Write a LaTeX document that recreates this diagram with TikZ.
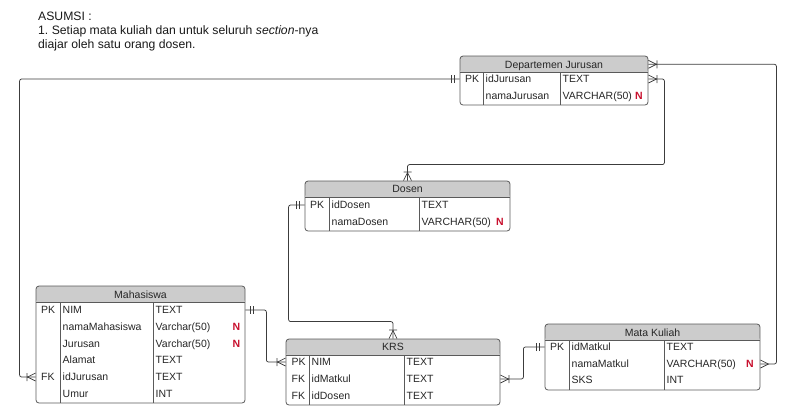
\documentclass[tikz,border=0pt]{standalone}
\usepackage{fontspec}
\setmainfont{Liberation Sans}
\frenchspacing

\definecolor{hdrgray}{HTML}{CCCCCC}
\definecolor{tblline}{HTML}{5A5A5A}
\definecolor{connline}{HTML}{3C3C3C}
\definecolor{nred}{HTML}{C8102E}

% relationship ends: #1 = point on the box edge, #2 = outward direction
\newcommand{\onebars}[2]{\draw[tick,shift={#1},rotate=#2] (5,-4) -- (5,4) (8,-4) -- (8,4);}
\newcommand{\crowbar}[2]{\draw[tick,shift={#1},rotate=#2] (0,-4) -- (8,0) -- (0,4) (8.5,-4) -- (8.5,4);}
\newcommand{\crowonly}[2]{\draw[tick,shift={#1},rotate=#2] (0,-4) -- (8,0) -- (0,4);}

\begin{document}
\begin{tikzpicture}
	[x=1pt, y=-1pt,
	tbl/.style = {draw=tblline, line width=0.8pt, rounded corners=3pt, inner sep=0pt,
		path picture={\fill[hdrgray] (path picture bounding box.north west) rectangle ([yshift=-16.5pt]path picture bounding box.north east);
			\draw[tblline, line width=0.8pt] ([yshift=-16.5pt]path picture bounding box.north west) -- ([yshift=-16.5pt]path picture bounding box.north east);}},
	div/.style = {draw=tblline, line width=0.8pt},
	cell/.style = {anchor=west, inner sep=0pt, text height=7.5pt, text depth=0pt, text=black!85, font=\fontsize{10.5pt}{12pt}\selectfont},
	title/.style = {cell, anchor=center},
	nflag/.style = {cell, anchor=east, text=nred, font=\fontsize{10.5pt}{12pt}\selectfont\bfseries},
	note/.style = {anchor=base west, inner sep=0pt, text=black!90, font=\fontsize{12.2pt}{14pt}\selectfont},
	conn/.style = {draw=connline, line width=0.75pt, rounded corners=2pt},
	tick/.style = {draw=connline, line width=0.75pt}
	]
	\useasboundingbox (0,0) rectangle (797,413);

	% note
	\node[note] (note1) at (38,20) {ASUMSI :};
	\node[note] (note2) at (38,34) {1.\ Setiap mata kuliah dan untuk seluruh \textit{section}-nya};
	\node[note] (note3) at (38,48) {diajar oleh satu orang dosen.};

	% Departemen Jurusan
	\node[tbl, minimum width=188pt, minimum height=49pt] (dept) at (554,80.5) {};
	\draw[div] (483,72.5) -- (483,105) (560,72.5) -- (560,105);
	\node[title] (dept-title) at (554,64.3) {Departemen Jurusan};
	\node[cell] (dept-k1) at (465,79) {PK};
	\node[cell] (dept-n1) at (485.5,79) {idJurusan};
	\node[cell] (dept-t1) at (562.5,79) {TEXT};
	\node[cell] (dept-n2) at (485.5,96) {namaJurusan};
	\node[cell] (dept-t2) at (562.5,96) {VARCHAR(50)};
	\node[nflag] (dept-x2) at (643,96) {N};

	% Dosen
	\node[tbl, minimum width=205pt, minimum height=50pt] (dosen) at (407.5,206) {};
	\draw[div] (329,197.5) -- (329,231) (419,197.5) -- (419,231);
	\node[title] (dosen-title) at (407.5,189.2) {Dosen};
	\node[cell] (dosen-k1) at (310,205) {PK};
	\node[cell] (dosen-n1) at (331.5,205) {idDosen};
	\node[cell] (dosen-t1) at (421.5,205) {TEXT};
	\node[cell] (dosen-n2) at (331.5,222) {namaDosen};
	\node[cell] (dosen-t2) at (421.5,222) {VARCHAR(50)};
	\node[nflag] (dosen-x2) at (504,222) {N};

	% Mahasiswa
	\node[tbl, minimum width=209pt, minimum height=117pt] (mhs) at (140.5,344.5) {};
	\draw[div] (60,302.5) -- (60,403) (153,302.5) -- (153,403);
	\node[title] (mhs-title) at (140.5,294.3) {Mahasiswa};
	\node[cell] (mhs-k1) at (41,310) {PK};
	\node[cell] (mhs-n1) at (62.5,310) {NIM};
	\node[cell] (mhs-t1) at (155.5,310) {TEXT};
	\node[cell] (mhs-n2) at (62.5,327) {namaMahasiswa};
	\node[cell] (mhs-t2) at (155.5,327) {Varchar(50)};
	\node[nflag] (mhs-x2) at (240.5,327) {N};
	\node[cell] (mhs-n3) at (62.5,343.5) {Jurusan};
	\node[cell] (mhs-t3) at (155.5,343.5) {Varchar(50)};
	\node[nflag] (mhs-x3) at (240.5,343.5) {N};
	\node[cell] (mhs-n4) at (62.5,360) {Alamat};
	\node[cell] (mhs-t4) at (155.5,360) {TEXT};
	\node[cell] (mhs-k5) at (41,377) {FK};
	\node[cell] (mhs-n5) at (62.5,377) {idJurusan};
	\node[cell] (mhs-t5) at (155.5,377) {TEXT};
	\node[cell] (mhs-n6) at (62.5,394) {Umur};
	\node[cell] (mhs-t6) at (155.5,394) {INT};

	% KRS
	\node[tbl, minimum width=214pt, minimum height=66pt] (krs) at (393,372) {};
	\draw[div] (309,355.5) -- (309,405) (404,355.5) -- (404,405);
	\node[title] (krs-title) at (393,347) {KRS};
	\node[cell] (krs-k1) at (291.5,362) {PK};
	\node[cell] (krs-n1) at (311.5,362) {NIM};
	\node[cell] (krs-t1) at (406.5,362) {TEXT};
	\node[cell] (krs-k2) at (291.5,379) {FK};
	\node[cell] (krs-n2) at (311.5,379) {idMatkul};
	\node[cell] (krs-t2) at (406.5,379) {TEXT};
	\node[cell] (krs-k3) at (291.5,396) {FK};
	\node[cell] (krs-n3) at (311.5,396) {idDosen};
	\node[cell] (krs-t3) at (406.5,396) {TEXT};

	% Mata Kuliah
	\node[tbl, minimum width=215pt, minimum height=66pt] (mk) at (652.5,357) {};
	\draw[div] (569,340.5) -- (569,390) (664,340.5) -- (664,390);
	\node[title] (mk-title) at (652.5,332.3) {Mata Kuliah};
	\node[cell] (mk-k1) at (550,347) {PK};
	\node[cell] (mk-n1) at (571.5,347) {idMatkul};
	\node[cell] (mk-t1) at (666.5,347) {TEXT};
	\node[cell] (mk-n2) at (571.5,364) {namaMatkul};
	\node[cell] (mk-t2) at (666.5,364) {VARCHAR(50)};
	\node[nflag] (mk-x2) at (754,364) {N};
	\node[cell] (mk-n3) at (571.5,380) {SKS};
	\node[cell] (mk-t3) at (666.5,380) {INT};

	% relations
	\draw[conn] (dept.west |- dept-n1) -| ([xshift=-16pt]mhs.west |- mhs-n5) -- (mhs.west |- mhs-n5);
	\onebars{(dept.west |- dept-n1)}{180}
	\crowbar{(mhs.west |- mhs-n5)}{180}

	\draw[conn] (dept.east |- dept-title) -| ([xshift=16pt]mk.east |- mk-n2) -- (mk.east |- mk-n2);
	\crowbar{(dept.east |- dept-title)}{0}
	\crowonly{(mk.east |- mk-n2)}{0}

	\draw[conn] (dept.east |- dept-n1) -- ++(16,0) |- ([yshift=16pt]dosen.north) -- (dosen.north);
	\crowbar{(dept.east |- dept-n1)}{0}
	\crowbar{(dosen.north)}{90}

	\draw[conn] (dosen.west |- dosen-n1) -- ++(-16,0) |- ([yshift=17pt]krs.north) -- (krs.north);
	\onebars{(dosen.west |- dosen-n1)}{180}
	\crowbar{(krs.north)}{90}

	\draw[conn] (mhs.east |- mhs-n1) -- ++(21,0) |- (krs.west |- krs-n1);
	\onebars{(mhs.east |- mhs-n1)}{0}
	\crowbar{(krs.west |- krs-n1)}{180}

	\draw[conn] (krs.east |- krs-n2) -- ++(23,0) |- (mk.west |- mk-n1);
	\crowbar{(krs.east |- krs-n2)}{0}
	\onebars{(mk.west |- mk-n1)}{180}
\end{tikzpicture}
\end{document}
